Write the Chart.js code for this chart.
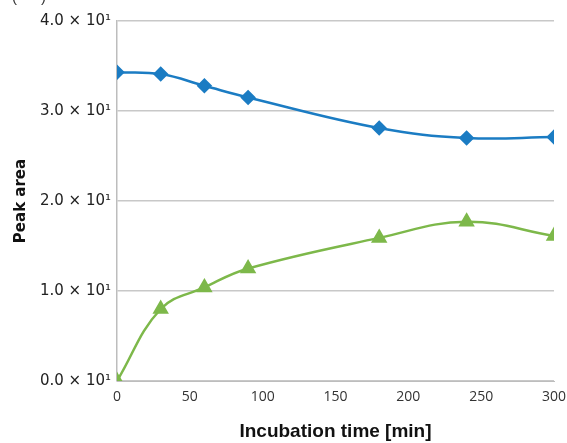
<!DOCTYPE html>
<html><head><meta charset="utf-8">
<script src="https://cdn.jsdelivr.net/npm/chart.js@4"></script>
<style>html,body{margin:0;padding:0;background:#fff}#w{width:567px;height:443px}</style>
</head><body><div id="w"><canvas id="c"></canvas></div>
<script>
const times = [0, 30, 60, 90, 180, 240, 300];
const blueSeries = [34.3, 34.1, 32.8, 31.5, 28.1, 27.0, 27.1];
const greenSeries = [0.0, 8.0, 10.4, 12.5, 15.9, 17.7, 16.1];
const yTicks = [0, 10, 20, 30, 40];
const xTicks = [0, 50, 100, 150, 200, 250, 300];

const pts = arr => times.map((t, i) => ({x: t, y: arr[i]}));
const fmtY = v => (v / 10).toFixed(1) + ' \u00d7 10\u00b9';

new Chart(document.getElementById('c'), {
  type: 'line',
  data: {
    datasets: [
      {data: pts(blueSeries), borderColor: '#1b7cc3', backgroundColor: '#1b7cc3', borderWidth: 2.5,
       pointStyle: 'rectRot', pointRadius: 6, pointHoverRadius: 6, tension: 0.4, fill: false},
      {data: pts(greenSeries), borderColor: '#7db84a', backgroundColor: '#7db84a', borderWidth: 2.5,
       pointStyle: 'triangle', pointRadius: 7, pointHoverRadius: 7, tension: 0.4, fill: false}
    ]
  },
  options: {
    responsive: true, maintainAspectRatio: false, animation: false,
    layout: {padding: {top: 21, right: 13, left: 0, bottom: 0}},
    plugins: {legend: {display: false}, tooltip: {enabled: false}},
    scales: {
      x: {
        type: 'linear', min: 0, max: 300,
        afterBuildTicks: s => { s.ticks = xTicks.map(v => ({value: v})); },
        ticks: {color: '#333', font: {family: 'Open Sans', size: 14}, padding: 8},
        grid: {display: false, drawTicks: false},
        border: {display: true, color: '#bdbdbd', width: 1},
        title: {display: true, text: 'Incubation time [min]', color: '#111',
                font: {family: 'Liberation Sans', size: 19, weight: 'bold'}, padding: {top: 8, bottom: 0}},
        afterFit: s => { s.height = 62; s.paddingLeft = 0; s.paddingRight = 0; }
      },
      y: {
        type: 'linear', min: 0, max: 40,
        afterBuildTicks: s => { s.ticks = yTicks.map(v => ({value: v})); },
        ticks: {color: '#222', font: {family: 'DejaVu Sans', size: 15}, padding: 6, callback: v => fmtY(v)},
        grid: {color: '#c8c8c8', lineWidth: 1.5, drawTicks: false},
        border: {display: true, color: '#bdbdbd', width: 1.5},
        title: {display: true, text: 'Peak area', color: '#111',
                font: {family: 'DejaVu Sans', size: 15, weight: 'bold'}, padding: {top: 12, bottom: 0}},
        afterFit: s => { s.width = 117; s.paddingTop = 0; s.paddingBottom = 0; }
      }
    }
  },
  plugins: [{
    id: 'cornerLabel',
    afterDraw(chart) {
      const ctx = chart.ctx;
      ctx.save();
      ctx.fillStyle = '#333';
      ctx.font = '15px Liberation Sans';
      ctx.textBaseline = 'alphabetic';
      ctx.fillText('(', 12, 2);
      ctx.fillText(')', 41, 2);
      ctx.restore();
    }
  }]
});
</script></body></html>
